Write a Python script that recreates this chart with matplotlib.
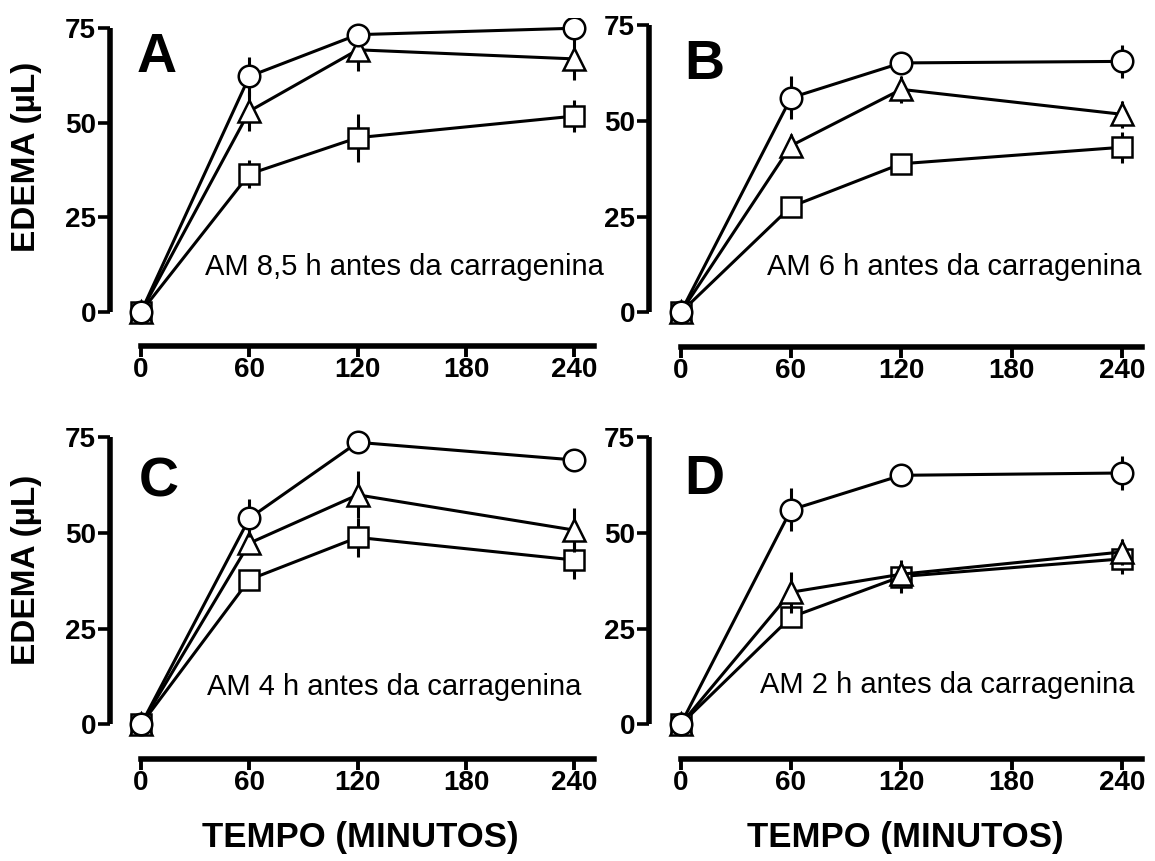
import matplotlib; matplotlib.use("Agg")
import matplotlib.pyplot as plt

plt.rcParams["font.family"] = ["Liberation Sans", "DejaVu Sans"]

tempo = [0, 60, 120, 240]
panels = ["A", "B", "C", "D"]
notes = ["AM 8,5 h antes da carragenina", "AM 6 h antes da carragenina",
         "AM 4 h antes da carragenina", "AM 2 h antes da carragenina"]
xticks = [0, 60, 120, 180, 240]
yticks = [0, 25, 50, 75]

# mean edema (uL) per panel: circle, triangle, square
circ = [[0, 62.2, 73.2, 74.9], [0, 56.0, 65.1, 65.5], [0, 53.8, 73.6, 69.0], [0, 56.0, 65.0, 65.6]]
circ_err = [[0, 5.2, 0, 0], [0, 5.6, 0, 4.3], [0, 5.0, 0, 0], [0, 5.6, 0, 4.4]]
tri = [[0, 53.0, 69.2, 66.8], [0, 43.5, 58.2, 51.7], [0, 47.3, 59.9, 50.7], [0, 34.5, 39.2, 45.0]]
tri_err = [[0, 5.2, 5.6, 5.5], [0, 3.0, 3.5, 3.5], [0, 0, 6.1, 5.8], [0, 5.3, 0, 3.5]]
sq = [[0, 36.4, 46.0, 51.7], [0, 27.6, 38.8, 43.1], [0, 37.8, 48.8, 42.9], [0, 28.0, 38.6, 43.2]]
sq_err = [[0, 3.7, 6.3, 4.3], [0, 0, 0, 4.0], [0, 0, 5.0, 5.0], [0, 0, 4.2, 4.0]]

note_pos = [(35.4, 11.9), (47, 11.9), (36.5, 9.7), (43, 10.2)]
letter_pos = [(-2.6, 67), (2, 64.6), (-1.3, 63.2), (2, 63.7)]

W, H = 1155, 861
fig = plt.figure(figsize=(W / 100, H / 100), dpi=100)
# axes boxes in pixels: left, top, right, bottom
boxes = [(110, 18, 596, 346), (649, 15, 1144, 347), (110, 427, 596, 759), (649, 427, 1144, 759)]

for i, (l, t, r, b) in enumerate(boxes):
    ax = fig.add_axes([l / W, 1 - b / H, (r - l) / W, (b - t) / H])
    ax.set_xlim(-17.2, 252)
    ax.set_ylim(-9, 77.6)
    ax.patch.set_alpha(0)
    for s in ("top", "right"):
        ax.spines[s].set_visible(False)
    ax.spines["left"].set_bounds(0, 75)
    ax.spines["bottom"].set_bounds(0, 251)
    ax.spines["left"].set_linewidth(4)
    ax.spines["bottom"].set_linewidth(4)
    ax.spines["left"].set_capstyle("butt")
    ax.set_xticks(xticks, labels=[str(v) for v in xticks], fontweight="bold", fontsize=20)
    ax.set_yticks(yticks, labels=[str(v) for v in yticks], fontweight="bold", fontsize=20)
    ax.tick_params(axis="y", direction="out", length=9, width=2.6, pad=1)
    ax.tick_params(axis="x", direction="out", length=8, width=2.8, pad=0)

    kw = dict(color="black", lw=2.2, ecolor="black", elinewidth=2.2, capsize=0,
              markerfacecolor="white", markeredgecolor="black", markeredgewidth=1.8)
    ax.errorbar(tempo, sq[i], yerr=sq_err[i], marker="s", ms=14.5, zorder=2, **kw)
    ax.errorbar(tempo, tri[i], yerr=tri_err[i], marker="^", ms=15.5, zorder=3, **kw)
    ax.errorbar(tempo, circ[i], yerr=circ_err[i], marker="o", ms=15.5, zorder=4, **kw)

    ax.text(note_pos[i][0], note_pos[i][1], notes[i], fontsize=21, ha="left", va="center")
    ax.text(letter_pos[i][0], letter_pos[i][1], panels[i], fontsize=40, fontweight="bold",
            ha="left", va="center")

fig.text(27 / W, 1 - 157 / H, "EDEMA (µL)", rotation=90, ha="center", va="center",
         fontsize=24, fontweight="bold")
fig.text(27 / W, 1 - 570 / H, "EDEMA (µL)", rotation=90, ha="center", va="center",
         fontsize=24, fontweight="bold")
fig.text(360 / W, 1 - 838 / H, "TEMPO (MINUTOS)", ha="center", va="center",
         fontsize=25, fontweight="bold")
fig.text(905 / W, 1 - 838 / H, "TEMPO (MINUTOS)", ha="center", va="center",
         fontsize=25, fontweight="bold")

fig.savefig("out.png", dpi=100)
